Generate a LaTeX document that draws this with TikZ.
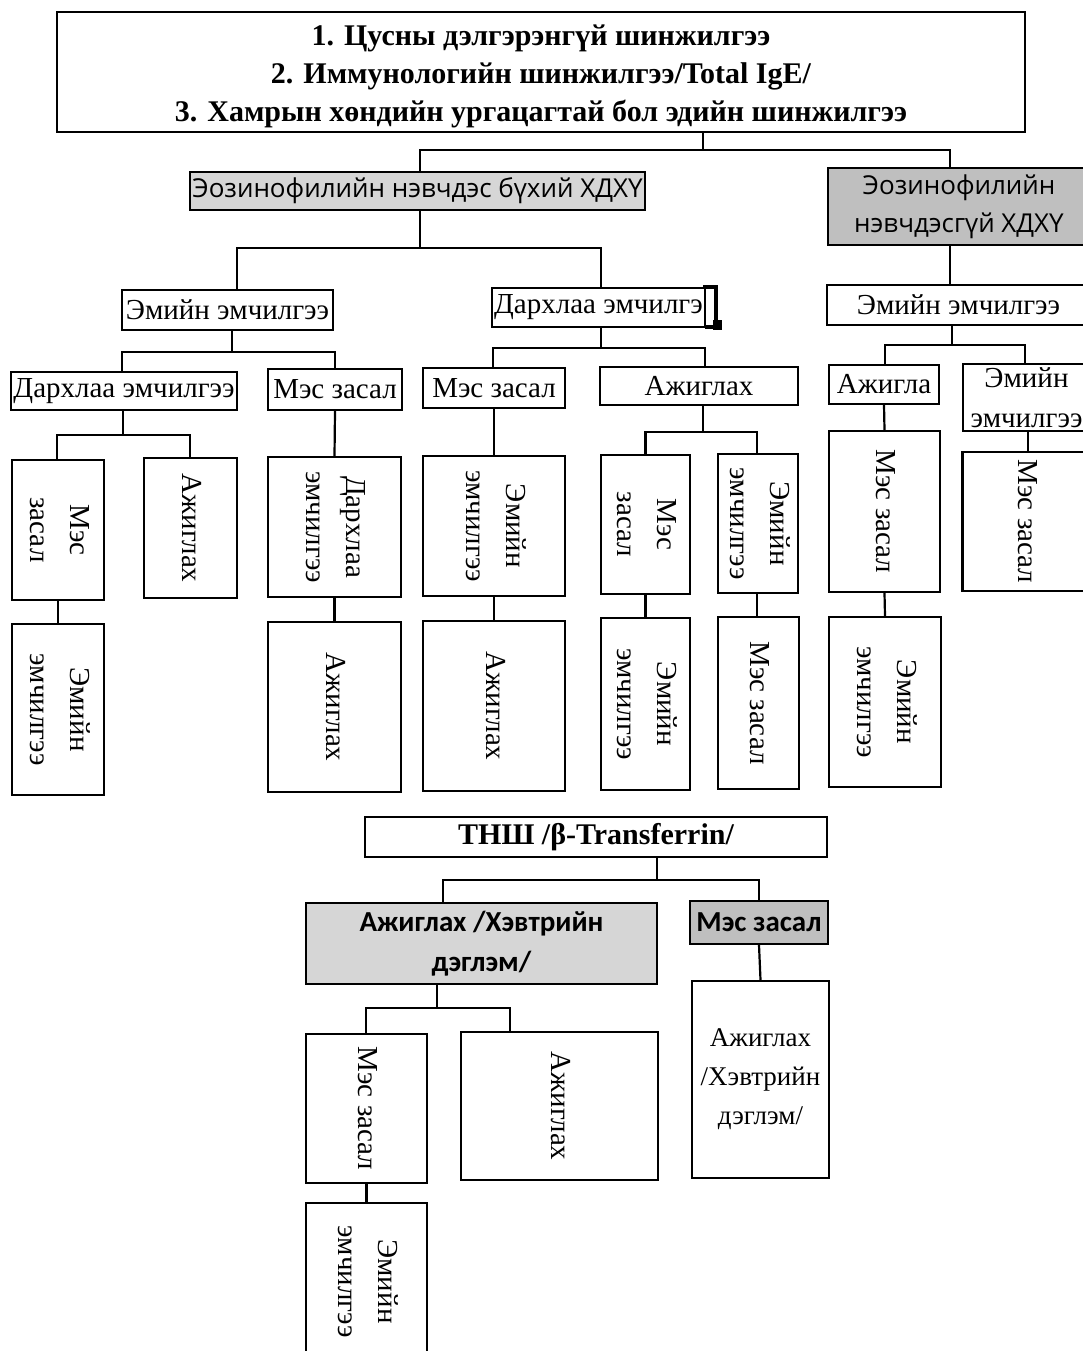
\documentclass[tikz,border=0pt]{standalone}
\usepackage{fontspec}
\setmainfont{Liberation Serif}
\newfontfamily\opensans{Open Sans}
\newfontfamily\carlito{Carlito}
\usepackage{xcolor}
\usepackage{tikz}
\definecolor{PaleGray}{HTML}{D6D6D6}
\definecolor{MidGray}{HTML}{BFBFBF}
\newcommand{\vtext}[1]{\rotatebox{-90}{\begin{tabular}{@{}c@{}}#1\end{tabular}}}

\begin{document}
\begin{tikzpicture}[x=1pt,y=-1pt,
		cell/.style={draw,line width=2.2pt,inner sep=0pt,align=center,font=\fontsize{29}{40}\selectfont},
		head/.style={cell,font=\fontsize{30}{38}\selectfont\bfseries},
		grayA/.style={cell,fill=PaleGray,font=\opensans\fontsize{26}{38}\selectfont},
		grayB/.style={cell,fill=MidGray,font=\opensans\fontsize{26}{38}\selectfont},
		grayC/.style={cell,fill=PaleGray,font=\carlito\bfseries\fontsize{29}{40}\selectfont},
		grayD/.style={cell,fill=MidGray,font=\carlito\bfseries\fontsize{29}{40}\selectfont},
		link/.style={line width=2.2pt}]
		\fill[white] (0,0) rectangle (1082,1351);
		\useasboundingbox (0,0) rectangle (1082,1351);
		% tests and first split
		\node[head,minimum width=968pt,minimum height=120pt] (tests) at (541,72)
			{\rule{0pt}{30pt}1. Цусны дэлгэрэнгүй шинжилгээ\\2. Иммунологийн шинжилгээ/Total IgE/\\3. Хамрын хөндийн ургацагтай бол эдийн шинжилгээ};
		\node[grayA,minimum width=455pt,minimum height=38pt] (eosYes) at (417.5,191) {Эозинофилийн нэвчдэс бүхий ХДХҮ};
		\node[grayB,minimum width=262pt,minimum height=77pt] (eosNo) at (959,206.5) {Эозинофилийн\\нэвчдэсгүй ХДХҮ};
		% second level
		\node[cell,minimum width=211pt,minimum height=40pt] (drugL) at (227.5,310) {Эмийн эмчилгээ};
		\node[cell,minimum width=213pt,minimum height=39pt] (immL) at (598.5,307.5) {Дархлаа эмчилгэ};
		\draw[line width=3.5pt] (703,287) -- (716,287) -- (716,327) -- (705,327);
		\fill (713,320) rectangle (722,330);
		\node[cell,minimum width=263pt,minimum height=40pt] (drugR) at (958.5,305) {Эмийн эмчилгээ};
		% third level
		\node[cell,minimum width=226pt,minimum height=38pt] (immLL) at (124,391) {Дархлаа эмчилгээ};
		\node[cell,minimum width=134pt,minimum height=41pt] (surgL) at (335,389.5) {Мэс засал};
		\node[cell,minimum width=142pt,minimum height=40pt] (surgM) at (494,388) {Мэс засал};
		\node[cell,minimum width=198pt,minimum height=38pt] (obsM) at (699,386) {Ажиглах};
		\node[cell,minimum width=110pt,minimum height=39pt] (obsR) at (884,384.5) {Ажигла};
		\node[cell,minimum width=127pt,minimum height=67pt] (drugRR) at (1026.5,397.5) {Эмийн\\эмчилгээ};
		% upright columns
		\node[cell,minimum width=92pt,minimum height=140pt] (surgLL) at (58,530) {\vtext{Мэс\\засал}};
		\node[cell,minimum width=93pt,minimum height=140pt] (obsLL) at (190.5,528) {\vtext{Ажиглах}};
		\node[cell,minimum width=92pt,minimum height=171pt] (drugLL) at (58,709.5) {\vtext{Эмийн\\эмчилгээ}};
		\node[cell,minimum width=133pt,minimum height=140pt] (immLm) at (334.5,527) {\vtext{Дархлаа\\эмчилгээ}};
		\node[cell,minimum width=133pt,minimum height=170pt] (obsLm) at (334.5,707) {\vtext{Ажиглах}};
		\node[cell,minimum width=142pt,minimum height=140pt] (drugMl) at (494,526) {\vtext{Эмийн\\эмчилгээ}};
		\node[cell,minimum width=142pt,minimum height=170pt] (obsMl) at (494,706) {\vtext{Ажиглах}};
		\node[cell,minimum width=89pt,minimum height=139pt] (surgMr) at (645.5,524.5) {\vtext{Мэс\\засал}};
		\node[cell,minimum width=80pt,minimum height=139pt] (drugMr) at (758,523.5) {\vtext{Эмийн\\эмчилгээ}};
		\node[cell,minimum width=89pt,minimum height=172pt] (drugMrr) at (645.5,704) {\vtext{Эмийн\\эмчилгээ}};
		\node[cell,minimum width=81pt,minimum height=172pt] (surgMrr) at (758.5,703) {\vtext{Мэс засал}};
		\node[cell,minimum width=111pt,minimum height=161pt] (surgR) at (884.5,511.5) {\vtext{Мэс засал}};
		\node[cell,minimum width=112pt,minimum height=170pt] (drugRv) at (885,702) {\vtext{Эмийн\\эмчилгээ}};
		\node[cell,minimum width=127pt,minimum height=139pt] (surgRR) at (1026,521.5) {\vtext{Мэс засал}};
		% beta-transferrin tree
		\node[head,minimum width=462pt,minimum height=40pt] (tnsh) at (596,837) {ТНШ /β-Transferrin/};
		\node[grayC,minimum width=351pt,minimum height=81pt] (obsBed) at (481.5,943.5) {Ажиглах /Хэвтрийн\\дэглэм/};
		\node[grayD,minimum width=138pt,minimum height=43pt] (surgB) at (759,922.5) {Мэс засал};
		\node[cell,minimum width=121pt,minimum height=149pt] (surgBl) at (366.5,1108.5) {\vtext{Мэс засал}};
		\node[cell,minimum width=197pt,minimum height=148pt] (obsBl) at (559.5,1106) {\vtext{Ажиглах}};
		\node[cell,minimum width=121pt,minimum height=157pt] (drugBl) at (366.5,1281.5) {\vtext{Эмийн\\эмчилгээ}};
		\node[cell,minimum width=137pt,minimum height=197pt,font=\fontsize{27}{39}\selectfont] (obsBr) at (760.5,1079.5) {Ажиглах\\/Хэвтрийн\\дэглэм/};
		% connectors
		\draw[link] (tests.south -| 703,0) -- (703,150) -| (eosYes.north -| 420,0);
		\draw[link] (703,150) -| (eosNo.north -| 950,0);
		\draw[link] (eosYes.south -| 420,0) -- (420,248) -| (drugL.north -| 237,0);
		\draw[link] (420,248) -| (immL.north -| 601,0);
		\draw[link] (eosNo.south -| 950,0) -- (drugR.north -| 950,0);
		\draw[link] (drugL.south -| 232,0) -- (232,352) -| (immLL.north -| 122,0);
		\draw[link] (232,352) -| (surgL.north);
		\draw[link] (immL.south -| 601,0) -- (601,348) -| (surgM.north -| 493,0);
		\draw[link] (601,348) -| (obsM.north -| 705,0);
		\draw[link] (drugR.south -| 952,0) -- (952,345) -| (obsR.north -| 885,0);
		\draw[link] (952,345) -| (drugRR.north -| 1025,0);
		\draw[link] (immLL.south -| 123,0) -- (123,435) -| (surgLL.north -| 57,0);
		\draw[link] (123,435) -| (obsLL.north -| 190,0);
		\draw[link] (surgL.south) -- (immLm.north);
		\draw[link] (immLm.south) -- (obsLm.north);
		\draw[link] (surgM.south) -- (drugMl.north);
		\draw[link] (drugMl.south) -- (obsMl.north);
		\draw[link] (obsM.south -| 703,0) -- (703,432) -| (surgMr.north);
		\draw[link] (703,432) -| (drugMr.north -| 757,0);
		\draw[link] (surgLL.south) -- (drugLL.north);
		\draw[link] (surgMr.south) -- (drugMrr.north);
		\draw[link] (drugMr.south -| 757,0) -- (surgMrr.north -| 757,0);
		\draw[link] (obsR.south) -- (surgR.north);
		\draw[link] (surgR.south) -- (drugRv.north);
		\draw[link] (drugRR.south -| 1028,0) -- (surgRR.north -| 1028,0);
		\draw[link] (tnsh.south -| 657,0) -- (657,880) -| (obsBed.north -| 443,0);
		\draw[link] (657,880) -| (surgB.north);
		\draw[link] (obsBed.south -| 437,0) -- (437,1008) -| (surgBl.north -| 366,0);
		\draw[link] (437,1008) -| (obsBl.north -| 510,0);
		\draw[link] (surgBl.south) -- (drugBl.north);
		\draw[link] (surgB.south) -- (obsBr.north);
	\end{tikzpicture}
\end{document}
